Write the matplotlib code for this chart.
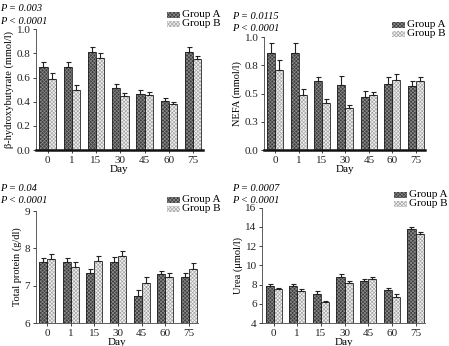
import numpy as np
import matplotlib
matplotlib.use('Agg')
import matplotlib.pyplot as plt

plt.rcParams['font.family'] = ['Liberation Serif', 'DejaVu Serif']
plt.rcParams['hatch.linewidth'] = 0.5

# Datos
dias = ['0', '1', '15', '30', '45', '60', '75']

bhb_a = [0.69, 0.69, 0.81, 0.515, 0.46, 0.405, 0.81]
bhb_a_err = [0.035, 0.035, 0.045, 0.035, 0.035, 0.025, 0.045]
bhb_b = [0.59, 0.495, 0.76, 0.445, 0.455, 0.38, 0.75]
bhb_b_err = [0.045, 0.04, 0.04, 0.025, 0.025, 0.02, 0.03]

nefa_a = [0.86, 0.86, 0.61, 0.58, 0.47, 0.585, 0.57]
nefa_a_err = [0.085, 0.085, 0.035, 0.075, 0.05, 0.065, 0.04]
nefa_b = [0.71, 0.49, 0.42, 0.37, 0.485, 0.62, 0.61]
nefa_b_err = [0.09, 0.05, 0.03, 0.025, 0.025, 0.05, 0.035]

tp_a = [7.64, 7.64, 7.34, 7.64, 6.73, 7.31, 7.24]
tp_a_err = [0.11, 0.11, 0.11, 0.13, 0.15, 0.09, 0.10]
tp_b = [7.72, 7.50, 7.66, 7.81, 7.08, 7.24, 7.46]
tp_b_err = [0.13, 0.14, 0.15, 0.11, 0.16, 0.11, 0.15]

urea_a = [7.82, 7.82, 7.04, 8.78, 8.35, 7.40, 13.73]
urea_a_err = [0.2, 0.2, 0.3, 0.28, 0.28, 0.25, 0.25]
urea_b = [7.50, 7.29, 6.19, 8.18, 8.57, 6.76, 13.31]
urea_b_err = [0.2, 0.25, 0.1, 0.2, 0.25, 0.28, 0.14]

fig = plt.figure(figsize=(4.49, 3.46), dpi=100)

W = 0.34  # ancho de barra
ESTILOS = [('#3c3c3c', '#8a8a8a', 'Group A'), ('#f2f2f2', '#a8a8a8', 'Group B')]
HATCH = 'xxxxxxxxx'

def panel(pos, a, a_err, b, b_err, ylabel, ylim, yticks, yticklabels, ptext, ptx, pty, legxy, thick_base):
    ax = fig.add_axes(pos)
    x = np.arange(len(dias))
    base = ylim[0]
    for (vals, errs, off), (face, hc, _) in zip([(a, a_err, -W/2), (b, b_err, W/2)], ESTILOS):
        vals = np.array(vals)
        h = vals - base
        ax.bar(x + off, h, W, bottom=base, color=face, edgecolor=hc, hatch=HATCH,
               linewidth=0, zorder=2)
        ax.bar(x + off, h, W, bottom=base, fill=False, edgecolor='#222222',
               linewidth=0.6, zorder=3)
        ax.errorbar(x + off, vals, yerr=[np.zeros(len(vals)), errs], fmt='none',
                    ecolor='#222222', elinewidth=0.8, capsize=1.8, capthick=0.8, zorder=4)
    ax.set_xlim(-0.48, 6.41)
    ax.set_ylim(*ylim)
    ax.set_yticks(yticks)
    ax.set_yticklabels(yticklabels)
    ax.set_xticks(x)
    ax.set_xticklabels(dias)
    ax.spines['top'].set_visible(False)
    ax.spines['right'].set_visible(False)
    ax.spines['left'].set_linewidth(0.6)
    ax.spines['left'].set_color('#444444')
    ax.spines['bottom'].set_linewidth(1.8 if thick_base else 0.6)
    ax.spines['bottom'].set_color('#111111' if thick_base else '#444444')
    ax.tick_params(labelsize=8, length=2.5, width=0.6, pad=1.5, colors='#222222')
    ax.set_xlabel('Day', fontsize=8, labelpad=0)
    ax.set_ylabel(ylabel, fontsize=7.5, labelpad=2)
    fig.text(ptx, pty, 'P = ' + ptext[0], fontsize=7.5, style='italic')
    fig.text(ptx, pty - 0.036, 'P < ' + ptext[1], fontsize=7.5, style='italic')
    # leyenda manual
    lx, ly = legxy
    for i, (face, hc, lab) in enumerate(ESTILOS):
        yy = ly - i * 0.026
        fig.patches.append(plt.Rectangle((lx, yy - 0.008), 0.029, 0.017, transform=fig.transFigure,
                                         facecolor=face, edgecolor=hc, hatch=HATCH, linewidth=0))
        fig.text(lx + 0.034, yy, lab, fontsize=8, va='center')
    return ax

panel([0.080, 0.566, 0.372, 0.350], bhb_a, bhb_a_err, bhb_b, bhb_b_err,
      'β-hydroxybutyrate (mmol/l)', (0, 1.0), [0, 0.2, 0.4, 0.6, 0.8, 1.0],
      ['0.0', '0.2', '0.4', '0.6', '0.8', '1.0'], ('0.003', '0.0001'), 0.0, 0.968,
      (0.372, 0.957), True)

panel([0.588, 0.566, 0.359, 0.327], nefa_a, nefa_a_err, nefa_b, nefa_b_err,
      'NEFA (mmol/l)', (0, 1.0), [0, 0.25, 0.5, 0.75, 1.0],
      ['0.0', '0.3', '0.5', '0.8', '1.0'], ('0.0115', '0.0001'), 0.517, 0.946,
      (0.873, 0.928), True)

panel([0.080, 0.066, 0.362, 0.324], tp_a, tp_a_err, tp_b, tp_b_err,
      'Total protein (g/dl)', (6, 9), [6, 7, 8, 9],
      ['6', '7', '8', '9'], ('0.04', '0.0001'), 0.0, 0.448,
      (0.372, 0.422), False)

panel([0.584, 0.066, 0.363, 0.334], urea_a, urea_a_err, urea_b, urea_b_err,
      'Urea (μmol/l)', (4, 16), [4, 6, 8, 10, 12, 14, 16],
      ['4', '6', '8', '10', '12', '14', '16'], ('0.0007', '0.0001'), 0.517, 0.448,
      (0.878, 0.437), False)

fig.savefig('out.png', dpi=100)
